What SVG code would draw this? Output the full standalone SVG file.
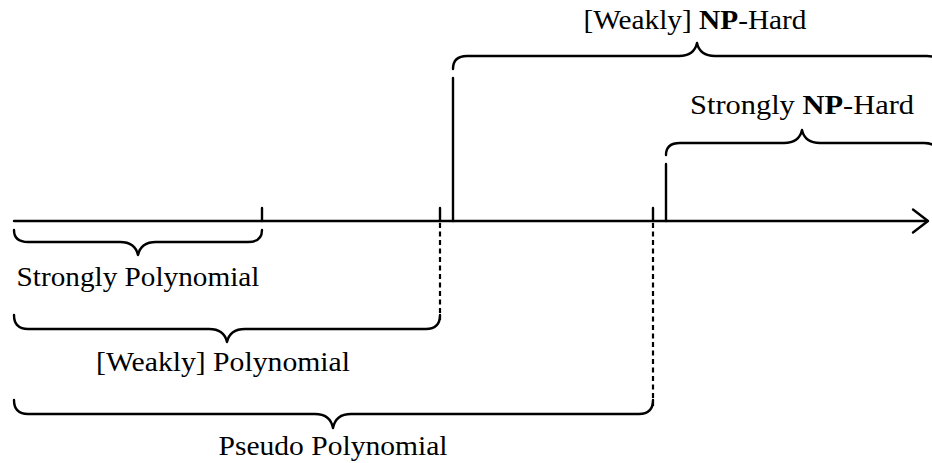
<svg xmlns="http://www.w3.org/2000/svg" width="932" height="463" viewBox="0 0 932 463">
  <style>
    .ln { fill: none; stroke: #000; stroke-width: 2.4; stroke-linecap: round; stroke-linejoin: round; }
    .dash { fill: none; stroke: #000; stroke-width: 2.2; stroke-dasharray: 5 3.5; }
    .lbl { font-family: "Liberation Serif", "DejaVu Serif", serif; font-size: 27px; fill: #000; text-anchor: middle; }
    .b { font-weight: bold; }
  </style>
  <rect width="932" height="463" fill="#fff"/>

  <!-- axis, ticks and dashed drops -->
  <g id="connectors">
    <path class="ln" d="M14,221 H927"/>
    <path class="ln" d="M913,209.5 L928,221 L913,232.5"/>
    <path class="ln" d="M262,208 V221"/>
    <path class="ln" d="M440,208 V221"/>
    <path class="dash" d="M440,223 V320"/>
    <path class="ln" d="M653,208 V221"/>
    <path class="dash" d="M653,223 V406"/>
    <path class="ln" d="M453,221 V78"/>
    <path class="ln" d="M666,221 V164"/>
  </g>

  <!-- lower braces -->
  <g id="strongly-polynomial">
    <path class="ln" d="M14,230 C14,238 19,242 28,242 H120 C130,242 136,246 138,255 C140,246 146,242 156,242 H248 C257,242 262,238 262,230"/>
    <text class="lbl" x="138" y="286" textLength="243" lengthAdjust="spacingAndGlyphs">Strongly Polynomial</text>
  </g>
  <g id="weakly-polynomial">
    <path class="ln" d="M14,315 C14,324 19,329 28,329 H209 C219,329 225,333 227,342 C229,333 235,329 245,329 H426 C435,329 440,324 440,315"/>
    <text class="lbl" x="223" y="371" textLength="254" lengthAdjust="spacingAndGlyphs">[Weakly] Polynomial</text>
  </g>
  <g id="pseudo-polynomial">
    <path class="ln" d="M14,400 C14,409 19,414 28,414 H315 C325,414 331,418 333,428 C335,418 341,414 351,414 H639 C648,414 653,409 653,400"/>
    <text class="lbl" x="333" y="455" textLength="229" lengthAdjust="spacingAndGlyphs">Pseudo Polynomial</text>
  </g>

  <!-- upper braces -->
  <g id="weakly-np-hard">
    <path class="ln" d="M453,69 C453,60 458,56 467,56 H679 C689,56 695,52 697,43 C699,52 705,56 715,56 H927 C936,56 941,60 941,69"/>
    <text class="lbl" x="695" y="29" textLength="223" lengthAdjust="spacingAndGlyphs">[Weakly] <tspan class="b">NP</tspan>-Hard</text>
  </g>
  <g id="strongly-np-hard">
    <path class="ln" d="M666,155 C666,147 671,143 680,143 H784 C794,143 800,139 802,130 C804,139 810,143 820,143 H924 C933,143 938,147 938,155"/>
    <text class="lbl" x="802" y="114" textLength="224" lengthAdjust="spacingAndGlyphs">Strongly <tspan class="b">NP</tspan>-Hard</text>
  </g>
</svg>
